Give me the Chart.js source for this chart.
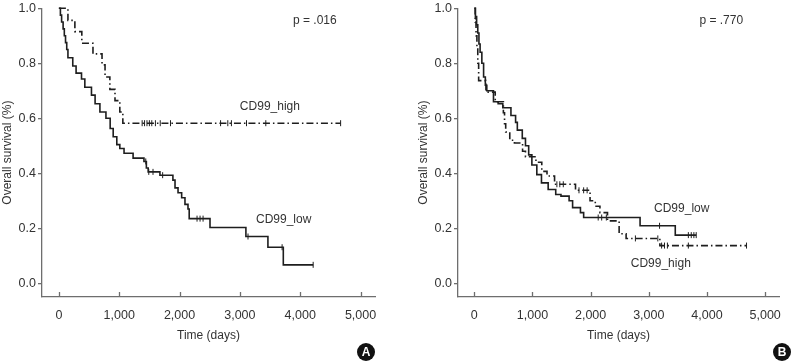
<!DOCTYPE html>
<html>
<head>
<meta charset="utf-8">
<script src="https://cdn.jsdelivr.net/npm/chart.js@4.4.0/dist/chart.umd.min.js"></script>
<style>
    body { margin: 0; background: #fff; width: 792px; height: 361px; overflow: hidden; position: relative; }
    .panel { position: absolute; top: 0; width: 396px; height: 361px; }
    #panelA { left: 0; }
    #panelB { left: 396px; }
</style>
</head>
<body>
<div class="panel" id="panelA"><canvas id="chartA" width="396" height="361"></canvas></div>
<div class="panel" id="panelB"><canvas id="chartB" width="396" height="361"></canvas></div>
<script>
// axis ticks
var xTicks = [0, 1000, 2000, 3000, 4000, 5000]
var yTicks = [0.0, 0.2, 0.4, 0.6, 0.8, 1.0]

// panel A, CD99_low (solid)
var lowA_time = [0, 25, 45, 70, 90, 110, 130, 150, 230, 285, 375, 430, 540, 600, 680, 780, 850, 900, 960, 1010, 1080, 1230, 1410, 1450, 1480, 1675, 1890, 1925, 1975, 2035, 2090, 2140, 2160, 2505, 3100, 3465, 3720, 4215]
var lowA_surv = [1.0, 0.975, 0.95, 0.925, 0.9, 0.875, 0.85, 0.82, 0.79, 0.764, 0.743, 0.713, 0.684, 0.653, 0.623, 0.6, 0.563, 0.533, 0.504, 0.49, 0.473, 0.455, 0.443, 0.419, 0.405, 0.393, 0.375, 0.347, 0.329, 0.311, 0.287, 0.27, 0.235, 0.203, 0.17, 0.131, 0.067, 0.067]
var lowA_censor = [1440, 1490, 1560, 1720, 2290, 2340, 2390, 3135, 3700, 4215]

// panel A, CD99_high (dash-dot)
var highA_time = [0, 150, 265, 380, 565, 715, 765, 845, 930, 1010, 1060, 4670]
var highA_surv = [1.0, 0.956, 0.915, 0.873, 0.834, 0.794, 0.75, 0.705, 0.664, 0.623, 0.582, 0.582]
var highA_censor = [1380, 1420, 1460, 1500, 1540, 1600, 1680, 1850, 2680, 2800, 2860, 3110, 3430, 4670]

// panel B, CD99_low (solid)
var lowB_time = [0, 20, 40, 60, 80, 100, 130, 160, 190, 215, 330, 410, 490, 630, 710, 740, 825, 880, 935, 990, 1075, 1155, 1270, 1400, 1490, 1630, 1690, 1825, 1880, 2850, 3455, 3815]
var lowB_surv = [1.0, 0.97, 0.94, 0.91, 0.87, 0.84, 0.80, 0.75, 0.72, 0.70, 0.66, 0.653, 0.638, 0.61, 0.585, 0.557, 0.527, 0.50, 0.467, 0.43, 0.395, 0.365, 0.341, 0.323, 0.317, 0.30, 0.275, 0.257, 0.239, 0.209, 0.175, 0.175]
var lowB_censor = [20, 2130, 2190, 2270, 3185, 3680, 3730, 3775, 3815]

// panel B, CD99_high (dash-dot)
var highB_time = [0, 15, 30, 45, 60, 75, 200, 360, 500, 520, 540, 610, 690, 830, 880, 1060, 1160, 1250, 1380, 1740, 1990, 2080, 2160, 2290, 2490, 2610, 3190, 4680]
var highB_surv = [1.0, 0.95, 0.90, 0.86, 0.80, 0.737, 0.695, 0.66, 0.62, 0.58, 0.55, 0.52, 0.51, 0.48, 0.46, 0.44, 0.407, 0.39, 0.36, 0.338, 0.30, 0.28, 0.257, 0.227, 0.18, 0.163, 0.137, 0.137]
var highB_censor = [1420, 1470, 1530, 1800, 1880, 1940, 2770, 3155, 3220, 3270, 3320, 3680, 4680]

var axisColor = "#6e6e6e"
var textColor = "#333333"
var lineColor = "#1e1e1e"
var fontFamily = "'Liberation Sans', Arial, sans-serif"

Chart.defaults.font.family = fontFamily
Chart.defaults.color = textColor

function toPoints(times, surv) {
    var pts = []
    for (var i = 0; i < times.length; i++) {
        pts.push({ x: times[i], y: surv[i] })
    }
    return pts
}

// survival level of the step curve at time t (for the censor marks)
function censorPoints(times, surv, censor) {
    return censor.map(function (t) {
        var s = surv[0]
        for (var i = 0; i < times.length; i++) {
            if (times[i] <= t) s = surv[i]
        }
        return { x: t, y: s }
    })
}

var extras = {
    id: "extras",
    afterDraw: function (chart, args, opts) {
        var ctx = chart.ctx
        var xs = chart.scales.x
        var ys = chart.scales.y
        var area = chart.chartArea
        ctx.save()
        // inward x ticks
        ctx.strokeStyle = axisColor
        ctx.lineWidth = 1.3
        xTicks.forEach(function (v) {
            var px = Math.round(xs.getPixelForValue(v)) + 0.5
            ctx.beginPath()
            ctx.moveTo(px, area.bottom)
            ctx.lineTo(px, area.bottom - 5)
            ctx.stroke()
        })
        // labels
        ctx.fillStyle = textColor
        ctx.font = "12px " + fontFamily
        ctx.textAlign = "left"
        ctx.textBaseline = "middle"
        opts.notes.forEach(function (n) {
            ctx.fillText(n.text, xs.getPixelForValue(n.x), ys.getPixelForValue(n.y))
        })
        // panel badge
        ctx.fillStyle = "#111"
        ctx.beginPath()
        ctx.arc(opts.badge.x, opts.badge.y, 9, 0, Math.PI * 2)
        ctx.fill()
        ctx.fillStyle = "#fff"
        ctx.font = "bold 12px " + fontFamily
        ctx.textAlign = "center"
        ctx.fillText(opts.badge.text, opts.badge.x, opts.badge.y + 0.5)
        ctx.restore()
    }
}

function makeChart(id, low, high, padLeft, padRight, notes, badge) {
    var curve = function (pts, dash) {
        return {
            data: pts,
            showLine: true,
            stepped: true,
            borderColor: lineColor,
            borderWidth: 1.6,
            borderDash: dash,
            pointRadius: 0,
            clip: false
        }
    }
    var marks = function (pts) {
        return {
            data: pts,
            showLine: false,
            pointStyle: "line",
            rotation: 90,
            pointRadius: 3,
            pointBorderWidth: 1,
            pointBorderColor: lineColor,
            pointBackgroundColor: lineColor,
            clip: false
        }
    }
    return new Chart(id, {
        type: "scatter",
        data: {
            datasets: [
                curve(toPoints(low[0], low[1]), []),
                curve(toPoints(high[0], high[1]), [7, 3, 1.5, 3]),
                marks(censorPoints(low[0], low[1], low[2])),
                marks(censorPoints(high[0], high[1], high[2]))
            ]
        },
        options: {
            responsive: false,
            animation: false,
            devicePixelRatio: 1,
            layout: { padding: { top: 6, left: padLeft, right: padRight, bottom: 18 } },
            plugins: {
                legend: { display: false },
                tooltip: { enabled: false },
                extras: { notes: notes, badge: badge }
            },
            scales: {
                x: {
                    type: "linear",
                    min: -280,
                    max: 5240,
                    afterBuildTicks: function (scale) {
                        scale.ticks = xTicks.map(function (v) { return { value: v } })
                    },
                    afterFit: function (scale) { scale.height = 46 },
                    grid: { display: false, drawTicks: false },
                    border: { color: axisColor, width: 1.3 },
                    ticks: {
                        padding: 11,
                        maxRotation: 0,
                        font: { size: 12.5 },
                        color: textColor,
                        callback: function (v) { return v.toLocaleString("en-US") }
                    },
                    title: {
                        display: true,
                        text: "Time (days)",
                        font: { size: 12 },
                        color: textColor,
                        padding: { top: 5, bottom: 0 }
                    }
                },
                y: {
                    type: "linear",
                    min: -0.05,
                    max: 1.0,
                    afterBuildTicks: function (scale) {
                        scale.ticks = yTicks.map(function (v) { return { value: v } })
                    },
                    afterFit: function (scale) { scale.width = 42 },
                    grid: { display: true, drawOnChartArea: false, drawTicks: true, tickLength: 4, color: axisColor, lineWidth: 1.3 },
                    border: { color: axisColor, width: 1.3 },
                    ticks: {
                        padding: 2,
                        font: { size: 12.5, lineHeight: 1 },
                        color: textColor,
                        callback: function (v) { return v.toFixed(1) }
                    },
                    title: {
                        display: true,
                        text: "Overall survival (%)",
                        font: { size: 12 },
                        color: textColor,
                        padding: 0
                    }
                }
            }
        },
        plugins: [extras]
    })
}

makeChart("chartA",
    [lowA_time, lowA_surv, lowA_censor],
    [highA_time, highA_surv, highA_censor],
    0, 21,
    [
        { text: "p = .016", x: 3880, y: 0.955 },
        { text: "CD99_high", x: 3000, y: 0.641 },
        { text: "CD99_low", x: 3267, y: 0.23 }
    ],
    { text: "A", x: 366, y: 352 })

makeChart("chartB",
    [lowB_time, lowB_surv, lowB_censor],
    [highB_time, highB_surv, highB_censor],
    20, 1,
    [
        { text: "p = .770", x: 3870, y: 0.955 },
        { text: "CD99_low", x: 3090, y: 0.27 },
        { text: "CD99_high", x: 2690, y: 0.072 }
    ],
    { text: "B", x: 386, y: 352 })
</script>
</body>
</html>
